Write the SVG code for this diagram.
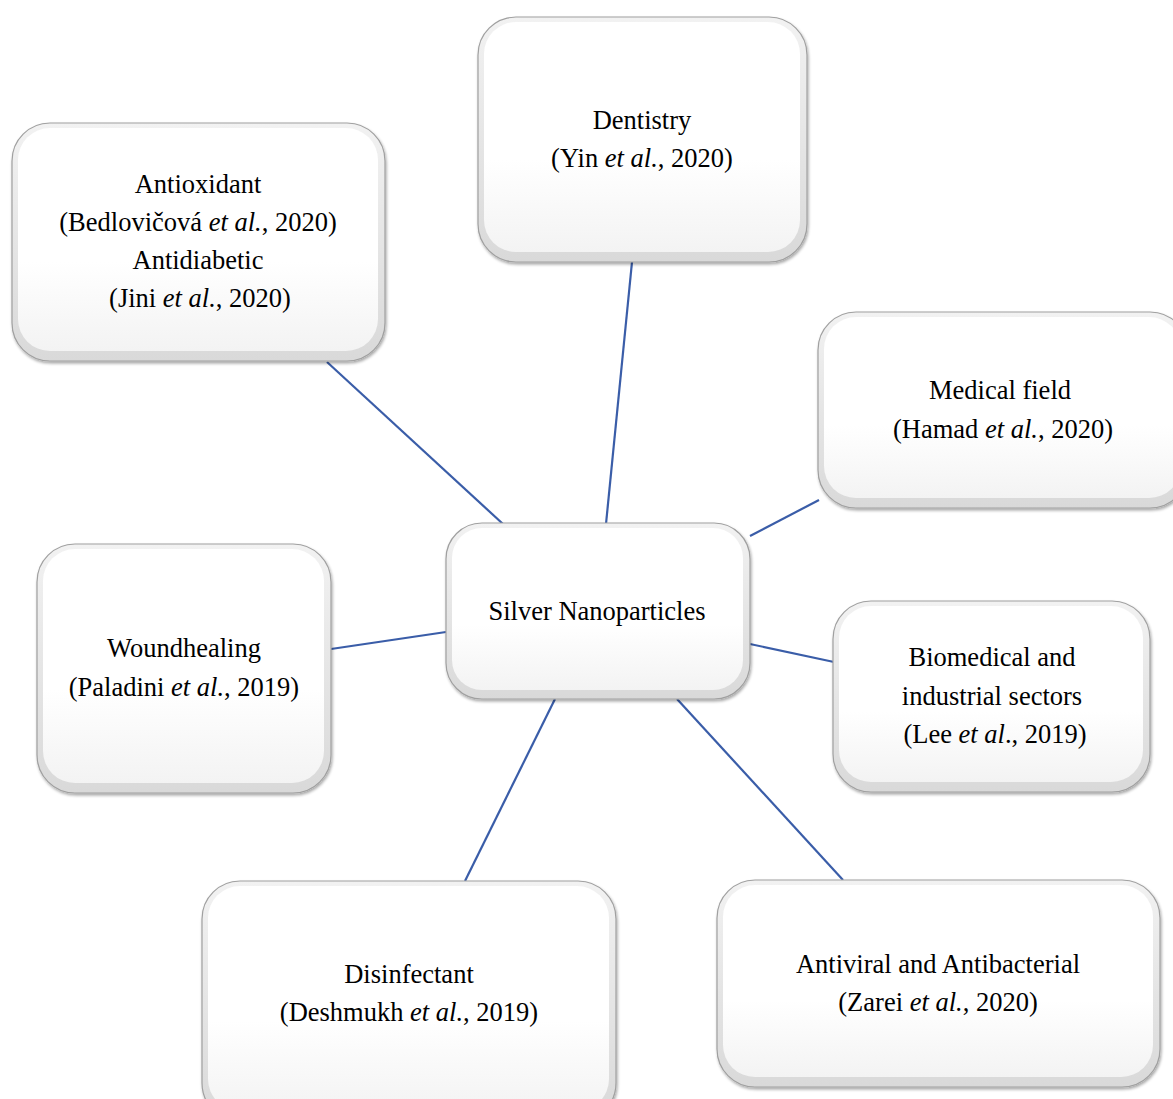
<svg xmlns="http://www.w3.org/2000/svg" width="1173" height="1099" viewBox="0 0 1173 1099">
<defs>
<linearGradient id="bev" x1="0" y1="0" x2="0" y2="1">
<stop offset="0" stop-color="#f2f2f2"/>
<stop offset="1" stop-color="#d9d9d9"/>
</linearGradient>
<linearGradient id="face" x1="0" y1="0" x2="0" y2="1">
<stop offset="0" stop-color="#ffffff"/>
<stop offset="0.6" stop-color="#ffffff"/>
<stop offset="1" stop-color="#f3f3f3"/>
</linearGradient>
<filter id="sh" x="-5%" y="-5%" width="110%" height="115%">
<feGaussianBlur in="SourceAlpha" stdDeviation="1.5"/>
<feOffset dx="1" dy="2"/>
<feComponentTransfer><feFuncA type="linear" slope="0.35"/></feComponentTransfer>
<feMerge><feMergeNode/><feMergeNode in="SourceGraphic"/></feMerge>
</filter>
</defs>
<style>
.outer{fill:url(#bev);stroke:#a0a0a0;stroke-width:1.2;filter:url(#sh)}
.inner{fill:url(#face);stroke:none}
.t{font-family:"Liberation Serif","Times New Roman",serif;font-size:26.5px;fill:#000;text-anchor:middle}
.i{font-style:italic}
.c{stroke:#3a5da8;stroke-width:2.2;fill:none}
</style>
<rect width="1173" height="1099" fill="#ffffff"/>
<g id="connectors">
<line class="c" x1="327" y1="362" x2="503" y2="524"/>
<line class="c" x1="632" y1="262" x2="606" y2="524"/>
<line class="c" x1="819" y1="500" x2="750" y2="536"/>
<line class="c" x1="331" y1="649" x2="446" y2="632"/>
<line class="c" x1="750" y1="644" x2="834" y2="662"/>
<line class="c" x1="555" y1="699" x2="465" y2="881"/>
<line class="c" x1="677" y1="699" x2="843" y2="880"/>
</g>
<g id="dentistry">
<rect class="outer" x="478" y="17" width="329" height="245" rx="38"/>
<rect class="inner" x="484" y="22" width="316" height="230" rx="32"/>
<text class="t" x="642" y="129">Dentistry</text>
<text class="t" x="642" y="167">(Yin <tspan class="i">et al.</tspan>, 2020)</text>
</g>
<g id="antioxidant">
<rect class="outer" x="12" y="123" width="373" height="238" rx="38"/>
<rect class="inner" x="18" y="128" width="360" height="223" rx="32"/>
<text class="t" x="198" y="193">Antioxidant</text>
<text class="t" x="198" y="231">(Bedlovičová <tspan class="i">et al.</tspan>, 2020)</text>
<text class="t" x="198" y="269">Antidiabetic</text>
<text class="t" x="200" y="307">(Jini <tspan class="i">et al.</tspan>, 2020)</text>
</g>
<g id="medical">
<rect class="outer" x="818" y="312" width="370" height="196" rx="38"/>
<rect class="inner" x="824" y="317" width="357" height="181" rx="32"/>
<text class="t" x="1000" y="399">Medical field</text>
<text class="t" x="1003" y="438">(Hamad <tspan class="i">et al.</tspan>, 2020)</text>
</g>
<g id="silver">
<rect class="outer" x="446" y="523" width="304" height="176" rx="36"/>
<rect class="inner" x="452" y="528" width="291" height="162" rx="30"/>
<text class="t" x="597" y="620">Silver Nanoparticles</text>
</g>
<g id="woundhealing">
<rect class="outer" x="37" y="544" width="294" height="249" rx="38"/>
<rect class="inner" x="43" y="549" width="281" height="234" rx="32"/>
<text class="t" x="184" y="657">Woundhealing</text>
<text class="t" x="184" y="696">(Paladini <tspan class="i">et al.</tspan>, 2019)</text>
</g>
<g id="biomedical">
<rect class="outer" x="833" y="601" width="317" height="191" rx="38"/>
<rect class="inner" x="839" y="606" width="304" height="176" rx="32"/>
<text class="t" x="992" y="666">Biomedical and</text>
<text class="t" x="992" y="705">industrial sectors</text>
<text class="t" x="995" y="743">(Lee <tspan class="i">et al</tspan>., 2019)</text>
</g>
<g id="disinfectant">
<rect class="outer" x="202" y="881" width="414" height="240" rx="38"/>
<rect class="inner" x="208" y="886" width="401" height="225" rx="32"/>
<text class="t" x="409" y="983">Disinfectant</text>
<text class="t" x="409" y="1021">(Deshmukh <tspan class="i">et al.</tspan>, 2019)</text>
</g>
<g id="antiviral">
<rect class="outer" x="717" y="880" width="443" height="207" rx="38"/>
<rect class="inner" x="723" y="885" width="430" height="192" rx="32"/>
<text class="t" x="938" y="973">Antiviral and Antibacterial</text>
<text class="t" x="938" y="1011">(Zarei <tspan class="i">et al.</tspan>, 2020)</text>
</g>
</svg>
